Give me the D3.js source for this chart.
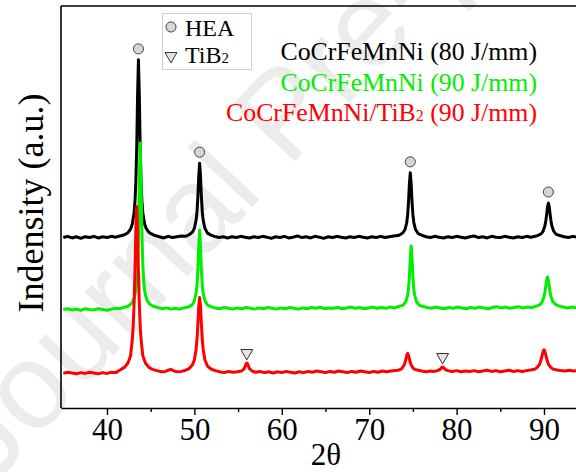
<!DOCTYPE html>
<html>
<head>
<meta charset="utf-8">
<script src="https://cdn.jsdelivr.net/npm/d3@7"></script>
<style>
  html, body { margin: 0; padding: 0; background: #fff; }
  svg { display: block; }
  text { font-family: "Liberation Serif", "Times New Roman", serif; }
</style>
</head>
<body>
<svg id="chart" width="576" height="472"></svg>
<script>
// XRD patterns [2θ, intensity (a.u., stacked offset included)]
const hea80 = [[35.0,424],[35.5,427],[36.0,423],[36.5,426],[37.0,422],[37.5,426],[38.0,424],[38.5,427],[39.0,423],[39.5,426],[40.0,424],[40.5,427],[41.0,425],[41.5,428],[42.0,431],[42.4,436],[42.7,445],[42.9,458],[43.1,486],[43.2,513],[43.3,561],[43.4,645],[43.5,778],[43.6,866],[43.7,778],[43.8,645],[43.9,561],[44.0,513],[44.1,486],[44.3,458],[44.5,446],[44.8,437],[45.1,433],[45.5,429],[46.0,426],[46.5,423],[47.0,427],[47.5,424],[48.0,426],[48.5,428],[49.0,427],[49.4,431],[49.8,438],[50.0,447],[50.2,468],[50.3,489],[50.4,526],[50.5,577],[50.6,609],[50.7,577],[50.8,526],[50.9,489],[51.0,468],[51.2,447],[51.5,435],[51.9,430],[52.3,427],[52.8,424],[53.3,426],[53.8,423],[54.3,426],[54.8,424],[55.3,427],[55.8,425],[56.3,423],[56.8,426],[57.3,424],[57.8,427],[58.3,425],[58.8,422],[59.3,426],[59.8,424],[60.3,427],[60.8,423],[61.3,425],[61.8,428],[62.3,424],[62.8,426],[63.3,423],[63.8,427],[64.3,425],[64.8,422],[65.3,426],[65.8,424],[66.3,427],[66.8,425],[67.3,423],[67.8,426],[68.3,424],[68.8,427],[69.3,425],[69.8,423],[70.3,426],[70.8,424],[71.3,427],[71.8,424],[72.3,426],[72.8,428],[73.3,429],[73.6,432],[73.9,437],[74.1,444],[74.3,462],[74.4,481],[74.5,513],[74.6,558],[74.7,585],[74.8,558],[74.9,513],[75.0,481],[75.1,462],[75.3,444],[75.6,434],[76.0,430],[76.5,426],[77.0,424],[77.5,427],[78.0,425],[78.5,423],[79.0,426],[79.5,424],[80.0,427],[80.5,425],[81.0,423],[81.5,426],[82.0,428],[82.5,424],[83.0,426],[83.5,423],[84.0,427],[84.5,425],[85.0,424],[85.5,427],[86.0,425],[86.5,423],[87.0,426],[87.5,424],[88.0,427],[88.5,425],[89.0,427],[89.4,430],[89.7,434],[89.9,440],[90.1,453],[90.2,465],[90.3,481],[90.4,500],[90.5,510],[90.6,500],[90.7,481],[90.8,465],[90.9,453],[91.1,440],[91.4,432],[91.8,429],[92.3,426],[92.8,424],[93.3,427],[93.7,425]];

const hea90 = [[35.0,245],[35.5,247],[36.0,244],[36.5,246],[37.0,243],[37.5,247],[38.0,245],[38.5,244],[39.0,247],[39.5,245],[40.0,243],[40.5,246],[41.0,248],[41.5,247],[42.0,251],[42.4,253],[42.7,258],[42.9,263],[43.1,273],[43.2,281],[43.3,294],[43.4,316],[43.5,356],[43.6,432],[43.7,562],[43.8,659],[43.9,562],[44.0,432],[44.1,356],[44.2,316],[44.3,294],[44.4,281],[44.6,267],[44.9,258],[45.3,253],[45.8,250],[46.3,247],[46.8,249],[47.3,246],[47.8,248],[48.3,246],[48.8,249],[49.4,252],[49.8,258],[50.0,267],[50.2,286],[50.3,307],[50.4,345],[50.5,403],[50.6,443],[50.7,403],[50.8,345],[50.9,307],[51.0,286],[51.2,267],[51.5,256],[51.9,252],[52.4,249],[52.9,247],[53.4,250],[53.9,248],[54.4,246],[54.9,249],[55.4,247],[55.9,250],[56.4,248],[56.9,246],[57.4,249],[57.9,247],[58.4,250],[58.9,248],[59.4,246],[59.9,249],[60.4,247],[60.9,250],[61.4,248],[61.9,246],[62.4,249],[62.9,247],[63.4,250],[63.9,248],[64.4,251],[64.9,247],[65.4,249],[65.9,248],[66.4,250],[66.9,247],[67.4,249],[67.9,251],[68.4,248],[68.9,250],[69.4,247],[69.9,249],[70.4,251],[70.9,248],[71.4,250],[71.9,248],[72.4,251],[72.9,249],[73.3,252],[73.6,254],[73.9,256],[74.2,265],[74.4,281],[74.5,297],[74.6,327],[74.7,372],[74.8,403],[74.9,372],[75.0,327],[75.1,297],[75.2,281],[75.4,265],[75.7,256],[76.1,253],[76.6,250],[77.1,248],[77.6,251],[78.1,249],[78.6,247],[79.1,250],[79.6,248],[80.1,251],[80.6,249],[81.1,247],[81.6,250],[82.1,248],[82.6,251],[83.1,249],[83.6,247],[84.1,250],[84.6,252],[85.1,249],[85.6,251],[86.1,248],[86.6,250],[87.1,252],[87.6,249],[88.1,251],[88.6,250],[89.2,254],[89.6,258],[89.8,265],[90.0,277],[90.1,288],[90.2,303],[90.3,318],[90.4,326],[90.5,318],[90.6,303],[90.7,288],[90.8,277],[91.0,265],[91.3,258],[91.7,254],[92.2,251],[92.7,249],[93.2,251],[93.7,249]];

const hea90TiB2 = [[35.0,86],[35.5,89],[36.0,87],[36.5,85],[37.0,88],[37.5,86],[38.0,89],[38.5,87],[39.0,85],[39.5,88],[40.0,86],[40.5,89],[41.0,88],[41.3,92],[41.6,96],[42.0,101],[42.4,112],[42.7,130],[42.9,171],[43.0,204],[43.1,258],[43.2,340],[43.3,444],[43.4,501],[43.5,444],[43.6,340],[43.7,258],[43.8,204],[43.9,171],[44.1,130],[44.4,112],[44.8,101],[45.2,96],[45.7,93],[46.2,90],[46.7,91],[47.0,94],[47.3,96],[47.6,93],[48.0,90],[48.5,91],[49.0,94],[49.4,98],[49.8,108],[50.0,120],[50.2,147],[50.3,172],[50.4,209],[50.5,253],[50.6,275],[50.7,253],[50.8,209],[50.9,172],[51.0,147],[51.2,120],[51.5,104],[51.9,97],[52.4,93],[52.9,90],[53.4,88],[53.9,91],[54.4,89],[54.9,90],[55.4,92],[55.7,98],[55.9,109],[56.0,112],[56.1,109],[56.3,98],[56.6,92],[57.0,89],[57.5,91],[58.0,88],[58.5,90],[59.0,87],[59.5,90],[60.0,88],[60.5,91],[61.0,89],[61.5,87],[62.0,90],[62.5,88],[63.0,91],[63.5,89],[64.0,92],[64.5,90],[65.0,88],[65.5,91],[66.0,89],[66.5,92],[67.0,90],[67.5,88],[68.0,91],[68.5,89],[69.0,92],[69.5,90],[70.0,88],[70.5,91],[71.0,89],[71.5,92],[72.0,90],[72.5,92],[73.0,93],[73.3,94],[73.6,96],[73.8,100],[74.0,107],[74.1,113],[74.2,122],[74.3,131],[74.4,136],[74.5,131],[74.6,122],[74.7,113],[74.8,107],[75.0,100],[75.2,96],[75.6,94],[76.0,92],[76.5,90],[77.0,92],[77.4,91],[77.8,93],[78.1,96],[78.3,101],[78.4,102],[78.5,101],[78.7,96],[79.0,93],[79.5,91],[80.0,93],[80.5,90],[81.0,92],[81.5,91],[82.0,93],[82.5,90],[83.0,92],[83.5,94],[84.0,91],[84.5,93],[85.0,90],[85.5,92],[86.0,94],[86.5,91],[87.0,93],[87.5,91],[88.0,93],[88.6,95],[89.0,97],[89.3,103],[89.5,109],[89.7,123],[89.8,132],[89.9,141],[90.0,145],[90.1,141],[90.2,132],[90.3,123],[90.5,109],[90.7,103],[91.0,97],[91.4,95],[91.9,93],[92.4,92],[92.9,94],[93.4,92],[93.7,93]];

// Phase reflections marked on the patterns
const heaPeaks = [43.6, 50.6, 74.7, 90.5];   // marked on the 80 J/mm pattern
const tib2Peaks = [56.0, 78.4];              // marked on the composite pattern

const xTicks = [40, 50, 60, 70, 80, 90];
const xMinorTicks = [45, 55, 65, 75, 85];

const seriesNames = ["CoCrFeMnNi (80 J/mm)", "CoCrFeMnNi (90 J/mm)", "CoCrFeMnNi/TiB\u2082 (90 J/mm)"];
const seriesColors = ["#000000", "#00ee00", "#ff0000"];
const legendNames = ["HEA", "TiB\u2082"];

const svg = d3.select("#chart");
const plot = { left: 61, right: 576, top: 6, bottom: 408 };

const x = d3.scaleLinear().domain([34.74, 93.66]).range([plot.left, plot.right]);
const y = d3.scaleLinear().domain([0, 1000]).range([plot.bottom, plot.top]);

// faint diagonal watermark
svg.append("text")
  .attr("transform", "translate(-8,486) rotate(-47)")
  .style("font-family", "'Liberation Sans', Arial, sans-serif")
  .attr("font-size", 122)
  .attr("fill", "#ececec")
  .text("Journal Pre-proof");

svg.append("defs").append("clipPath").attr("id", "plotClip")
  .append("rect")
  .attr("x", plot.left).attr("y", plot.top)
  .attr("width", plot.right - plot.left).attr("height", plot.bottom - plot.top);

const line = d3.line().x(d => x(d[0])).y(d => y(d[1]));
const patterns = [hea80, hea90, hea90TiB2];

const lines = svg.append("g").attr("clip-path", "url(#plotClip)");
patterns.forEach((data, i) => {
  lines.append("path")
    .datum(data)
    .attr("d", line)
    .attr("fill", "none")
    .attr("stroke", seriesColors[i])
    .attr("stroke-width", 3)
    .attr("stroke-linejoin", "round");
});

// value of a pattern at the sampled angle closest to t
function valueAt(data, t) {
  let best = data[0];
  data.forEach(d => { if (Math.abs(d[0] - t) < Math.abs(best[0] - t)) best = d; });
  return best[1];
}

const circleSym = d3.symbol().type(d3.symbolCircle).size(80);
const triSym = d3.symbol().type(d3.symbolTriangle).size(62);

svg.append("g").selectAll("path")
  .data(heaPeaks)
  .join("path")
  .attr("d", circleSym)
  .attr("transform", t => `translate(${x(t)},${y(valueAt(hea80, t)) - 11})`)
  .attr("fill", "#d6d6d6")
  .attr("stroke", "#444")
  .attr("stroke-width", 1);

svg.append("g").selectAll("path")
  .data(tib2Peaks)
  .join("path")
  .attr("d", triSym)
  .attr("transform", t => `translate(${x(t)},${y(valueAt(hea90TiB2, t)) - 10}) rotate(180)`)
  .attr("fill", "#e4e4e4")
  .attr("stroke", "#333")
  .attr("stroke-width", 1);

// frame: left and top edges
svg.append("line")
  .attr("x1", plot.left).attr("x2", plot.left)
  .attr("y1", plot.top).attr("y2", plot.bottom)
  .attr("stroke", "#000").attr("stroke-width", 1.6);
svg.append("line")
  .attr("x1", plot.left).attr("x2", plot.right)
  .attr("y1", plot.top).attr("y2", plot.top)
  .attr("stroke", "#000").attr("stroke-width", 1.6);

// bottom axis
const xAxis = d3.axisBottom(x).tickValues(xTicks).tickSize(7).tickSizeOuter(0)
  .tickPadding(3).tickFormat(d3.format("d"));
const gx = svg.append("g").attr("transform", `translate(0,${plot.bottom})`).call(xAxis);
gx.select(".domain").attr("stroke-width", 1.6);
gx.selectAll(".tick line").attr("stroke-width", 1.4);
gx.selectAll(".tick text")
  .attr("font-family", "'Liberation Serif', 'Times New Roman', serif")
  .attr("font-size", 31).attr("fill", "#000");

const xMinor = d3.axisBottom(x).tickValues(xMinorTicks).tickSize(4).tickSizeOuter(0).tickFormat("");
const gm = svg.append("g").attr("transform", `translate(0,${plot.bottom})`).call(xMinor);
gm.select(".domain").remove();
gm.selectAll(".tick line").attr("stroke-width", 1.4);

// axis titles
svg.append("text")
  .attr("x", 326).attr("y", 465)
  .attr("text-anchor", "middle")
  .attr("font-size", 31)
  .text("2\u03b8");

svg.append("text")
  .attr("transform", "translate(43,203) rotate(-90)")
  .attr("text-anchor", "middle")
  .attr("font-size", 36)
  .text("Indensity (a.u.)");

// renders a label, drawing "₂" as a small digit on the baseline
function richText(sel, str, size) {
  const parts = str.split("\u2082");
  parts.forEach((p, i) => {
    sel.append("tspan").text(p);
    if (i < parts.length - 1) {
      sel.append("tspan").attr("font-size", size * 0.62).text("2");
    }
  });
}

// symbol legend
const lg = svg.append("g");
lg.append("rect")
  .attr("x", 162.5).attr("y", 13.5).attr("width", 89).attr("height", 56)
  .attr("fill", "#fff").attr("stroke", "#cfcfcf").attr("stroke-width", 1);
lg.append("path").attr("d", circleSym)
  .attr("transform", "translate(171,27)")
  .attr("fill", "#d6d6d6").attr("stroke", "#444").attr("stroke-width", 1);
lg.append("path").attr("d", triSym)
  .attr("transform", "translate(171,56) rotate(180)")
  .attr("fill", "#e4e4e4").attr("stroke", "#333").attr("stroke-width", 1);
legendNames.forEach((name, i) => {
  const t = lg.append("text").attr("x", 185).attr("y", 36 + i * 27).attr("font-size", 24);
  richText(t, name, 24);
});

// series labels
seriesNames.forEach((name, i) => {
  const t = svg.append("text")
    .attr("x", 537).attr("y", 60 + i * 30.5)
    .attr("text-anchor", "end")
    .attr("font-size", 25.8)
    .attr("fill", seriesColors[i]);
  richText(t, name, 25.8);
});
</script>
</body>
</html>
